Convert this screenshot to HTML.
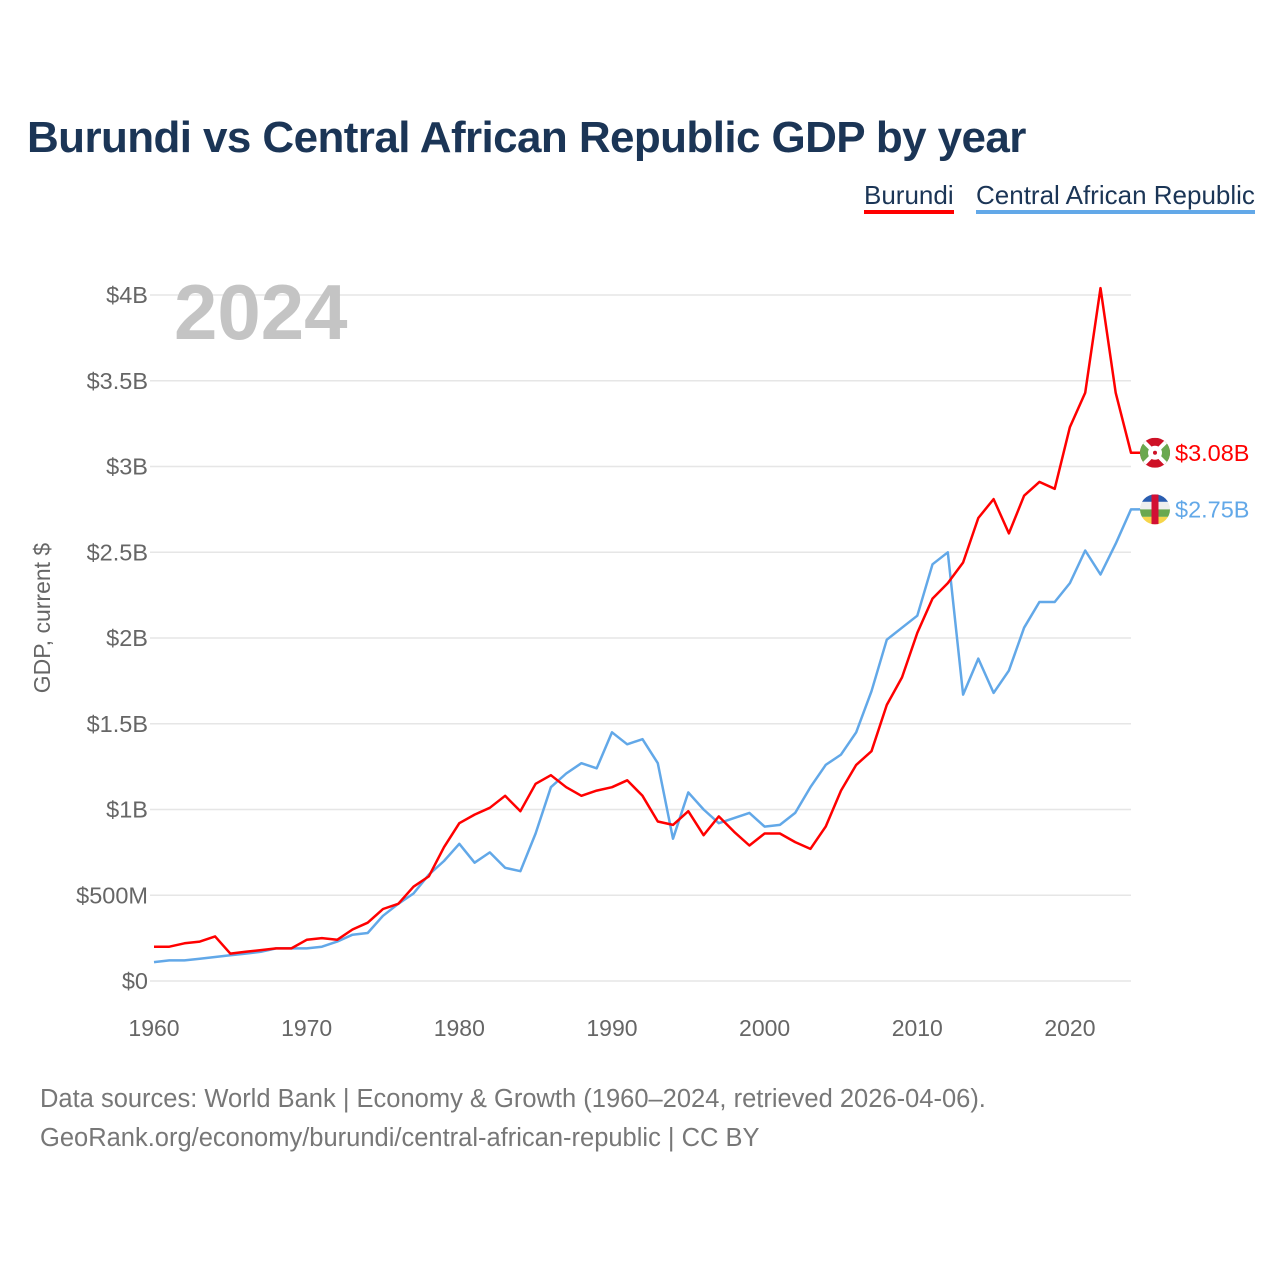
<!DOCTYPE html>
<html><head><meta charset="utf-8"><style>
body{margin:0;background:#fff;font-family:"Liberation Sans",sans-serif;}
#wrap{position:relative;width:1280px;height:1280px;overflow:hidden;background:#fff}
.t{position:absolute;white-space:nowrap}
</style></head><body>
<div id="wrap">
<div class="t" style="left:27px;top:113px;font-size:44px;font-weight:bold;color:#1b3556;letter-spacing:-0.6px">Burundi vs Central African Republic GDP by year</div>
<div class="t" style="left:864px;top:180px;font-size:26px;color:#1b3556;border-bottom:4px solid #ff0000;line-height:30px">Burundi</div>
<div class="t" style="left:976px;top:180px;font-size:26px;color:#1b3556;border-bottom:4px solid #62a8e8;line-height:30px">Central African Republic</div>
<svg id="chart" width="1280" height="1280" style="position:absolute;left:0;top:0"></svg>
<div class="t" style="left:40px;top:1085px;font-size:25.5px;color:#777">Data sources: World Bank | Economy &amp; Growth (1960–2024, retrieved 2026-04-06).</div>
<div class="t" style="left:40px;top:1124px;font-size:25.5px;color:#777">GeoRank.org/economy/burundi/central-african-republic | CC BY</div>
</div>
<script>
const years=[];for(let y=1960;y<=2024;y++)years.push(y);
const burundi=[0.20,0.20,0.22,0.23,0.26,0.16,0.17,0.18,0.19,0.19,0.24,0.25,0.24,0.30,0.34,0.42,0.45,0.55,0.61,0.78,0.92,0.97,1.01,1.08,0.99,1.15,1.20,1.13,1.08,1.11,1.13,1.17,1.08,0.93,0.91,0.99,0.85,0.96,0.87,0.79,0.86,0.86,0.81,0.77,0.90,1.11,1.26,1.34,1.61,1.77,2.03,2.23,2.32,2.44,2.70,2.81,2.61,2.83,2.91,2.87,3.23,3.43,4.04,3.43,3.08];
const car=[0.11,0.12,0.12,0.13,0.14,0.15,0.16,0.17,0.19,0.19,0.19,0.20,0.23,0.27,0.28,0.38,0.45,0.51,0.62,0.70,0.80,0.69,0.75,0.66,0.64,0.86,1.13,1.21,1.27,1.24,1.45,1.38,1.41,1.27,0.83,1.10,1.00,0.92,0.95,0.98,0.90,0.91,0.98,1.13,1.26,1.32,1.45,1.69,1.99,2.06,2.13,2.43,2.50,1.67,1.88,1.68,1.81,2.06,2.21,2.21,2.32,2.51,2.37,2.55,2.75];
const yTicks=[0,0.5,1,1.5,2,2.5,3,3.5,4];
const yTickLabels=["$0","$500M","$1B","$1.5B","$2B","$2.5B","$3B","$3.5B","$4B"];
const xTicks=[1960,1970,1980,1990,2000,2010,2020];
const endLabels=["$3.08B","$2.75B"];
const NS="http://www.w3.org/2000/svg";
const svg=document.getElementById('chart');
const X=v=>154+(v-1960)*(1131-154)/64;
const Y=v=>981-v*171.5;
function mk(tag,attrs,parent){const e=document.createElementNS(NS,tag);for(const k in attrs)e.setAttribute(k,attrs[k]);(parent||svg).appendChild(e);return e;}
yTicks.forEach((t,i)=>{
 const l=mk('line',{x1:150,x2:1131,y1:Y(t),y2:Y(t),stroke:'#e6e6e6','stroke-width':1.5});
 
 
 const tx=mk('text',{x:148,y:Y(t)+8,'text-anchor':'end','font-size':23.5,fill:'#666','font-family':'Liberation Sans, sans-serif'});
 tx.textContent=yTickLabels[i];
 
 
});
xTicks.forEach(t=>{
 const tx=mk('text',{x:X(t),y:1036,'text-anchor':'middle','font-size':23,fill:'#666','font-family':'Liberation Sans, sans-serif'});
 tx.textContent=t;
 
 
});
const yt=mk('text',{x:0,y:0,transform:'translate(50,618) rotate(-90)','text-anchor':'middle','font-size':23,fill:'#666','font-family':'Liberation Sans, sans-serif'});
yt.textContent='GDP, current $';


const yr=mk('text',{x:174,y:339,'font-size':78,'font-weight':'bold',fill:'#c4c4c4','font-family':'Liberation Sans, sans-serif'});
yr.textContent='2024';


function line(vals,color,name){
 const d=vals.map((v,i)=>(i?'L':'M')+X(years[i]).toFixed(1)+','+Y(v).toFixed(1)).join(' ')+' L'+(X(2024)+10)+','+Y(vals[vals.length-1]).toFixed(1);
 const p=mk('path',{d:d,fill:'none',stroke:color,'stroke-width':2.5,'stroke-linejoin':'round'});
 
 
}
line(car,'#62a8e8','car-line');
line(burundi,'#ff0000','burundi-line');
function flag(v,kind,label,color,name){
 const cy=Y(v),cx=1155;
 const g=mk('g',{});
 
 
 const cp=mk('clipPath',{id:'c'+kind},g);mk('circle',{cx:cx,cy:cy,r:15},cp);
 const gg=mk('g',{'clip-path':'url(#c'+kind+')'},g);
 if(kind==='b'){
  mk('rect',{x:cx-15,y:cy-15,width:30,height:30,fill:'#ce1126'},gg);
  mk('path',{d:`M${cx-15},${cy-15}L${cx},${cy}L${cx-15},${cy+15}Z M${cx+15},${cy-15}L${cx},${cy}L${cx+15},${cy+15}Z`,fill:'#6aa84f'},gg);
  mk('path',{d:`M${cx-15},${cy-15}L${cx+15},${cy+15}M${cx+15},${cy-15}L${cx-15},${cy+15}`,stroke:'#fff','stroke-width':4},gg);
  mk('circle',{cx:cx,cy:cy,r:7,fill:'#fff'},gg);
  mk('circle',{cx:cx,cy:cy,r:2,fill:'#ce1126'},gg);
 }else{
  const c=['#2a5db0','#eee','#6aa84f','#f6d54a'];
  c.forEach((f,i)=>mk('rect',{x:cx-15,y:cy-15+i*7.5,width:30,height:7.5,fill:f},gg));
  mk('rect',{x:cx-3.5,y:cy-15,width:7,height:30,fill:'#d21034'},gg);
 }
 const t=mk('text',{x:1175,y:cy+8,'font-size':23.5,fill:color,'font-family':'Liberation Sans, sans-serif'});
 t.textContent=label;
 
 
}
flag(burundi[burundi.length-1],'b',endLabels[0],'#ff0000','burundi');
flag(car[car.length-1],'c',endLabels[1],'#62a8e8','car');
</script>
</body></html>
